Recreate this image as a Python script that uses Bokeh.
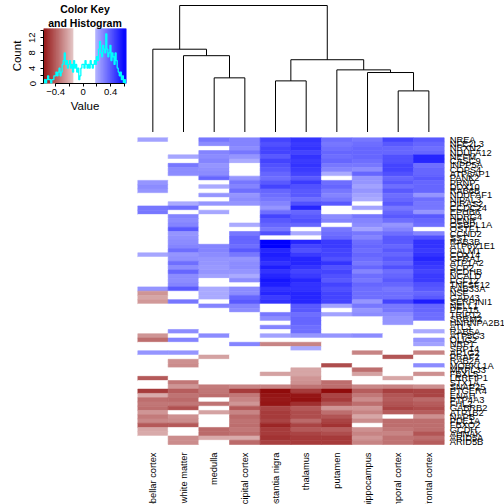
import math
from bokeh.plotting import figure
from bokeh.layouts import column, row
from bokeh.models import Range1d, FixedTicker, ColumnDataSource, Title
from bokeh.core.properties import value
from bokeh.embed import file_html
from bokeh.resources import INLINE

# ---------------- data ----------------
regions = ["cerebellar cortex", "white matter", "medulla", "occipital cortex",
           "substantia nigra", "thalamus", "putamen", "hippocampus",
           "temporal cortex", "frontal cortex"]

genes = ["NREA", "NFE2L3", "NRXN2", "NDUFA12", "NEFM", "CASC9", "INPP5A", "COPS4",
         "ATP6AP1", "PANK2", "PRNP", "DDX10", "RAB6B", "NDUFAF1", "NIPAL3", "DIRAS2",
         "CCDC24", "EPHB6", "NDRG4", "DENR", "OSBPL1A", "OSTF1", "CCND2", "SST",
         "RAB3B", "ATP6V1E1", "CALM1", "COX14", "GFRA1", "ATP1A2", "SCP2", "PCDHB",
         "NCALD", "FGF12", "TNFSF12", "RAB33A", "NSF", "GAP43", "SERPINI1", "NELL1",
         "PEA15", "TRIP12", "SRRM2", "HNRNPA2B1", "ATL3", "RAB5A", "ATP5G3", "OLIG2",
         "NRP1", "SRP14", "AP1G2", "PRAF2", "RAB2A", "MOBKL1A", "MRPL33", "FBXL5",
         "LRRFIP1", "STX1A", "SNAP25", "PTGER4", "ENAH", "PTP4A3", "FHL2", "GABRB2",
         "ATP1B2", "NAPB", "PDE1A", "FBXO2", "GCDH", "AHNAK", "ARID5A", "ARID5B"]

# correlation values, one row per gene (top to bottom), columns in region order
expr = [
    [0.22, 0, 0.32, 0.29, 0.44, 0.48, 0.34, 0.32, 0.44, 0.39],
    [0, 0, 0.27, 0.29, 0.41, 0.46, 0.32, 0.34, 0.39, 0.36],
    [0, 0, 0, 0.27, 0.44, 0.48, 0.34, 0.36, 0.36, 0.34],
    [0, 0, 0.29, 0.32, 0.44, 0.44, 0.36, 0.36, 0.36, 0.36],
    [0, 0.21, 0.27, 0.25, 0.39, 0.48, 0.34, 0.36, 0.41, 0.51],
    [0, 0, 0.29, 0.20, 0.44, 0.46, 0.36, 0.34, 0.41, 0.51],
    [0, 0.32, 0.25, 0, 0.41, 0.48, 0.32, 0.32, 0.44, 0.34],
    [0, 0.27, 0.26, 0, 0.39, 0.46, 0.29, 0.27, 0.44, 0.36],
    [0, 0.27, 0.27, 0, 0.36, 0.44, 0.20, 0.36, 0.41, 0.36],
    [0, 0, 0.36, 0.25, 0.34, 0.39, 0, 0.25, 0.36, 0.39],
    [0.25, 0, 0, 0.32, 0.39, 0.46, 0.34, 0.25, 0.39, 0.36],
    [0.27, 0, 0.20, 0.29, 0.44, 0.41, 0.36, 0.22, 0.34, 0.36],
    [0.25, 0, 0, 0.34, 0.36, 0.39, 0.32, 0.25, 0.39, 0.36],
    [0, 0, 0.25, 0.25, 0.34, 0.39, 0.29, 0.22, 0.34, 0.25],
    [0, 0, 0, 0.27, 0.32, 0.34, 0.32, 0.20, 0.36, 0.34],
    [0, 0.20, 0.25, 0.25, 0.29, 0.41, 0.39, 0, 0.39, 0.32],
    [0.32, 0.34, 0, 0, 0.25, 0.51, 0, 0.22, 0.32, 0.32],
    [0.32, 0, 0.21, 0, 0.34, 0.36, 0, 0, 0.36, 0.25],
    [0, 0.29, 0, 0, 0.44, 0.39, 0.27, 0.32, 0.39, 0.39],
    [0, 0.27, 0, 0, 0.39, 0.41, 0.29, 0.29, 0.34, 0.36],
    [0, 0.29, 0, 0.20, 0.36, 0.36, 0, 0.27, 0.25, 0.34],
    [0, 0.39, 0, 0, 0.32, 0, 0.32, 0.22, 0.29, 0],
    [0, 0.25, 0, 0.32, 0.41, 0.20, 0.34, 0.32, 0.34, 0.29],
    [0, 0.26, 0, 0.36, 0, 0, 0.36, 0.29, 0.39, 0.41],
    [0, 0.27, 0, 0.36, 0.62, 0.51, 0.46, 0.34, 0.39, 0.48],
    [0, 0.29, 0.29, 0.34, 0.62, 0.44, 0.46, 0.36, 0.36, 0.48],
    [0, 0.34, 0.29, 0.39, 0.51, 0.41, 0.44, 0.34, 0.39, 0.46],
    [0.21, 0.25, 0.27, 0.32, 0.53, 0.46, 0.44, 0.36, 0.36, 0.48],
    [0, 0.26, 0.25, 0.25, 0.51, 0.51, 0.41, 0.34, 0.39, 0.51],
    [0, 0.34, 0.25, 0.27, 0.48, 0.51, 0.48, 0.32, 0.36, 0.48],
    [0, 0.27, 0.24, 0.27, 0.53, 0.48, 0.41, 0.36, 0.41, 0.46],
    [0, 0.36, 0.25, 0.25, 0.48, 0.44, 0.44, 0.29, 0.34, 0.44],
    [0, 0.27, 0.22, 0.20, 0.51, 0.46, 0.41, 0.34, 0.36, 0.46],
    [0, 0.27, 0, 0.27, 0.55, 0.51, 0.39, 0.32, 0.39, 0.46],
    [0, 0.29, 0, 0, 0.53, 0.48, 0.44, 0.36, 0.36, 0.41],
    [0.25, 0.39, 0.20, 0.27, 0.48, 0.48, 0.41, 0.34, 0.32, 0.39],
    [-0.25, 0, 0.20, 0.27, 0.51, 0.51, 0.44, 0.34, 0.34, 0.36],
    [-0.21, 0, 0.20, 0.36, 0.46, 0.51, 0.44, 0.34, 0.34, 0.39],
    [-0.24, 0.32, 0, 0.39, 0.48, 0.51, 0.44, 0.25, 0.44, 0.53],
    [0, 0, 0.29, 0.29, 0, 0.39, 0.22, 0.32, 0.32, 0.36],
    [0, 0, 0, 0.27, 0, 0.39, 0, 0.25, 0.32, 0.36],
    [0, 0, 0, 0, 0.32, 0.34, 0.22, 0.27, 0.27, 0.34],
    [0, 0, 0, 0, 0.27, 0.36, 0, 0, 0.25, 0.34],
    [0, 0, 0, 0, 0, 0.36, 0, 0, 0.25, 0],
    [0, 0, 0, 0, 0.29, 0.34, 0, 0, 0, 0],
    [0, 0.27, 0, 0, 0, 0.34, 0, 0, 0, 0.20],
    [-0.25, 0, 0.27, 0, 0.22, 0.25, 0.25, 0.27, 0, 0],
    [-0.34, 0.29, 0, 0, 0, 0, 0, 0, 0, 0.25],
    [0, 0, 0, 0.29, -0.29, -0.29, 0, 0, 0, 0.22],
    [0, 0, 0, 0, 0, 0.20, 0, 0, 0, 0],
    [0.25, 0.25, 0, 0, 0, 0, 0, -0.29, 0, -0.29],
    [0, 0, -0.22, 0, 0, 0, 0, 0, -0.40, 0],
    [0, -0.26, 0, 0, 0, 0, 0, 0, 0, 0],
    [0, -0.27, 0, 0, 0, 0, -0.42, 0, 0, 0.27],
    [0, 0, 0, 0, 0, -0.21, 0, -0.34, 0, 0],
    [0, 0, 0, 0, -0.22, -0.21, 0, -0.22, 0, -0.26],
    [-0.39, 0, 0, 0, 0, -0.25, 0, 0, -0.21, 0],
    [0, -0.32, 0, 0, 0, -0.26, -0.34, 0, 0, 0],
    [0, -0.25, -0.31, -0.29, -0.29, -0.33, -0.34, -0.28, -0.29, -0.26],
    [-0.46, -0.38, -0.32, -0.46, -0.575, -0.46, -0.575, -0.38, -0.45, -0.44],
    [-0.20, -0.33, -0.34, -0.32, -0.55, -0.55, -0.44, -0.32, -0.40, -0.44],
    [-0.34, -0.35, 0, -0.29, -0.54, -0.56, -0.46, -0.27, -0.38, -0.35],
    [-0.32, -0.32, -0.33, -0.25, -0.55, -0.49, -0.40, -0.34, -0.40, -0.38],
    [-0.34, -0.41, 0, -0.39, -0.44, -0.39, -0.25, -0.25, -0.44, -0.42],
    [-0.25, 0, -0.22, -0.29, -0.46, -0.42, -0.34, -0.29, -0.38, -0.38],
    [-0.31, -0.26, 0, -0.35, -0.46, -0.42, -0.40, -0.21, 0, -0.26],
    [-0.28, -0.27, 0, -0.33, -0.44, -0.35, -0.44, -0.27, -0.34, -0.34],
    [-0.39, -0.39, 0, -0.34, -0.51, -0.44, -0.48, 0, -0.34, -0.34],
    [-0.21, 0, -0.35, -0.32, -0.46, -0.39, -0.38, -0.26, -0.32, -0.34],
    [-0.20, 0, -0.35, -0.34, -0.46, -0.44, -0.42, -0.29, -0.29, -0.40],
    [0, -0.27, -0.20, -0.20, -0.48, -0.46, -0.46, -0.25, -0.33, -0.34],
    [0, -0.27, 0, -0.35, -0.45, -0.46, -0.46, -0.29, -0.33, -0.38],
]

# column dendrogram (R-style merge table: negative = leaf number, positive = earlier merge)
merge_left = [-9, -5, -3, -8, -7, 2, -2, -1, 8]
merge_right = [-10, -6, -4, 1, 4, 5, 3, 7, 6]
merge_height = [0.326, 0.405, 0.429, 0.471, 0.492, 0.572, 0.604, 0.655, 1.0]

# colour key histogram
key_min, key_max = -0.575, 0.63
key_counts = [0, 1, 0, 1, 2, 1, 1, 0, 1, 1,
              2, 2, 3, 2, 3, 4, 2, 3, 5, 6,
              8, 5, 6, 4, 5, 6, 4, 5, 3, 6,
              4, 5, 3, 4, 1, 2, 4, 5, 5, 4,
              6, 5, 4, 5, 4, 6, 5, 4, 5, 6,
              5, 7, 6, 9, 11, 8, 7, 10, 9, 8,
              13, 9, 7, 8, 10, 6, 8, 7, 5, 8,
              6, 4, 3, 2, 3, 1, 2, 0, 1, 0]
key_xticks = [-0.4, 0, 0.4]
key_xminor = [-0.2, 0.2, 0.6]
key_yticks = [0, 4, 8, 12]
key_yminor = [2, 6, 10, 14]

# ---------------- style / geometry ----------------
FONT = "Liberation Sans"
WHITE_LO, WHITE_HI, VMAX = -0.14, 0.18, 0.6


def heat_color(v):
    if v >= WHITE_HI:
        t = min(v / VMAX, 1.0)
        c = int(round(255 * (1 - t)))
        return "#%02x%02xff" % (c, c)
    if v <= WHITE_LO:
        t = min(-v / VMAX, 1.0)
        r = int(round(255 - t * (255 - 139)))
        g = int(round(255 * (1 - t)))
        return "#%02x%02x%02x" % (r, g, g)
    return "#ffffff"


nrow, ncol = len(genes), len(regions)
TOTAL = 504
LEFT = 137            # key column width / heatmap left edge
HEAT_TOP = 137.3      # heatmap top edge (px)
HEAT = 306.7          # heatmap size (px)
DEND_H = 132          # dendrogram panel height
LEAF_Y, ROOT_Y = 131.7, 5.0
RIGHT_W = TOTAL - LEFT
cpx = HEAT / ncol                 # px per column
rpx = HEAT / nrow                 # px per row

# ---------------- colour key ----------------
key_ytop = 14.4
kp = figure(width=LEFT, height=LEFT, x_range=Range1d(key_min, key_max),
            y_range=Range1d(0, key_ytop), output_backend="svg", toolbar_location=None,
            min_border_left=43, min_border_right=11, min_border_top=20, min_border_bottom=54)
title_style = dict(align="center", text_font=FONT, text_font_size="10.5px",
                   text_font_style="bold", text_color="black", standoff=0,
                   text_line_height=0.85)
kp.title.text = "Color Key"
for k_, v_ in title_style.items():
    setattr(kp.title, k_, v_)
kp.add_layout(Title(text="and Histogram", **title_style), "above")
kp.outline_line_color = None
kp.xgrid.visible = False
kp.ygrid.visible = False

nstr = 110
edges = [key_min + (key_max - key_min) * i / nstr for i in range(nstr + 1)]
scol = [heat_color((edges[i] + edges[i + 1]) / 2) for i in range(nstr)]
kp.quad(left=edges[:-1], right=edges[1:], bottom=0, top=key_ytop,
        fill_color=scol, line_color=scol, line_width=0.5)

nb = len(key_counts)
hedges = [key_min + (key_max - key_min) * i / nb for i in range(nb + 1)]
kp.step(x=hedges, y=key_counts + [key_counts[-1]], mode="after",
        line_color="cyan", line_width=1.3)

for ax in (kp.xaxis[0], kp.yaxis[0]):
    ax.major_tick_in = 0
    ax.major_tick_out = 3
    ax.minor_tick_in = 0
    ax.minor_tick_out = 3
    ax.major_label_text_font = FONT
    ax.major_label_text_font_size = "9.5px"
    ax.major_label_text_color = "black"
    ax.axis_label_text_font = FONT
    ax.axis_label_text_font_size = "11.5px"
    ax.axis_label_text_font_style = "normal"
    ax.axis_label_text_color = "black"
    ax.axis_line_color = "black"
    ax.major_tick_line_color = "black"
    ax.minor_tick_line_color = "black"

kp.xaxis.ticker = FixedTicker(ticks=key_xticks, minor_ticks=key_xminor)
kp.xaxis.major_label_overrides = {0: "0"}
kp.xaxis.bounds = (key_xticks[0], key_xminor[-1])
kp.xaxis.axis_label = "Value"
kp.xaxis.major_label_standoff = 2
kp.xaxis.axis_label_standoff = 2

kp.yaxis.ticker = FixedTicker(ticks=key_yticks, minor_ticks=key_yminor)
kp.yaxis.bounds = (key_yticks[0], key_yminor[-1])
kp.yaxis.axis_label = "Count"
kp.yaxis.major_label_orientation = "vertical"
kp.yaxis.major_label_standoff = 5
kp.yaxis.axis_label_standoff = 4

# ---------------- column dendrogram ----------------
ppu = LEAF_Y - ROOT_Y            # px per unit height
d_end = merge_height[-1] + ROOT_Y / ppu
d_start = d_end - DEND_H / ppu
dp = figure(width=RIGHT_W, height=DEND_H, x_range=Range1d(0, RIGHT_W / cpx),
            y_range=Range1d(d_start, d_end), output_backend="svg", toolbar_location=None,
            x_axis_type=None, y_axis_type=None,
            min_border_left=0, min_border_right=0,
            min_border_top=0, min_border_bottom=0)
dp.outline_line_color = None

node_pos = {}


def child(c):
    if c < 0:
        return (-c) - 0.5, 0.0
    return node_pos[c]


sx0, sy0, sx1, sy1 = [], [], [], []
for k, (a, b, h) in enumerate(zip(merge_left, merge_right, merge_height), start=1):
    xa, ha = child(a)
    xb, hb = child(b)
    sx0 += [xa, xb, xa]
    sy0 += [ha, hb, h]
    sx1 += [xa, xb, xb]
    sy1 += [h, h, h]
    node_pos[k] = ((xa + xb) / 2, h)
dp.segment(x0=sx0, y0=sy0, x1=sx1, y1=sy1, line_color="black", line_width=1)

# ---------------- heatmap ----------------
hp_h = TOTAL - DEND_H
y_end = nrow + (HEAT_TOP - DEND_H) / rpx
y_start = nrow - (TOTAL - HEAT_TOP) / rpx
hp = figure(width=RIGHT_W, height=hp_h,
            x_range=Range1d(0, RIGHT_W / cpx),
            y_range=Range1d(y_start, y_end),
            output_backend="svg", toolbar_location=None,
            x_axis_type=None, y_axis_type=None,
            min_border_left=0, min_border_right=0, min_border_top=0, min_border_bottom=0)
hp.outline_line_color = None

xs, ys, cs = [], [], []
for i, rowvals in enumerate(expr):
    for j, v in enumerate(rowvals):
        xs.append(j + 0.5)
        ys.append(nrow - i - 0.5)
        cs.append(heat_color(v))
src = ColumnDataSource(dict(x=xs, y=ys, c=cs))
hp.rect(x="x", y="y", width=1, height=1, source=src,
        fill_color="c", line_color="c", line_width=0.6)

# row labels (right)
hp.text(x=[ncol + 5.5 / cpx] * nrow, y=[nrow - i - 0.5 for i in range(nrow)], text=genes,
        text_font=value(FONT), text_font_size="9.3px", text_align="left",
        text_baseline="middle", text_color="black")

# column labels (below, rotated)
hp.text(x=[j + 0.5 for j in range(ncol)], y=[-8.0 / rpx] * ncol, text=regions,
        angle=math.pi / 2,
        text_font=value(FONT), text_font_size="9.3px", text_align="right",
        text_baseline="middle", text_color="black")

layout = row(kp, column(dp, hp))
open("out.html", "w").write(file_html(layout, INLINE))
